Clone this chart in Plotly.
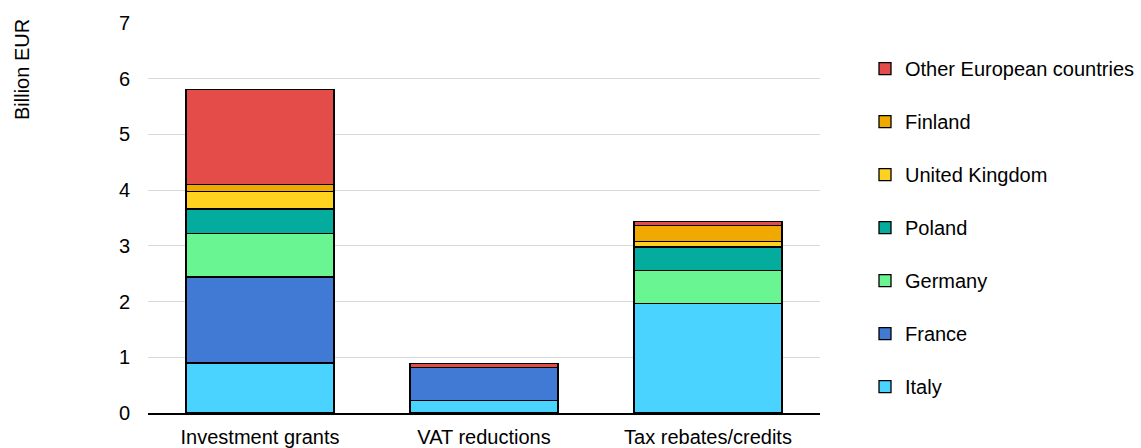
import plotly.graph_objects as go

categories = ["Investment grants", "VAT reductions", "Tax rebates/credits"]
italy = [0.90, 0.22, 1.96]
france = [1.54, 0.60, 0.0]
germany = [0.78, 0.0, 0.60]
poland = [0.44, 0.0, 0.42]
uk = [0.32, 0.0, 0.10]
finland = [0.12, 0.0, 0.28]
other = [1.71, 0.07, 0.08]

series = [
    ("Italy", italy, "#4AD3FF"),
    ("France", france, "#407AD4"),
    ("Germany", germany, "#69F592"),
    ("Poland", poland, "#03AC9D"),
    ("United Kingdom", uk, "#FFD220"),
    ("Finland", finland, "#F0A900"),
    ("Other European countries", other, "#E44C4A"),
]

fig = go.Figure()
for i, (name, vals, col) in enumerate(series):
    fig.add_trace(go.Bar(
        x=categories, y=vals, name=name, legendgroup=name,
        legendrank=100 - i,
        marker=dict(color=col, line=dict(color="#000000", width=1.3)),
    ))

fig.update_layout(
    barmode="stack",
    bargap=0.34,
    width=1141, height=448,
    margin=dict(l=148, r=321, t=23, b=35, autoexpand=False),
    paper_bgcolor="white", plot_bgcolor="white",
    font=dict(family="Liberation Sans, Arial, sans-serif", size=20, color="#000000"),
    legend=dict(
        x=(865 - 148) / 672, y=0.933, xanchor="left", yanchor="top",
        traceorder="grouped", tracegroupgap=24,
        font=dict(size=20), itemwidth=30,
    ),
    yaxis=dict(
        range=[0, 7], dtick=1, showgrid=True, gridcolor="#D9D9D9", gridwidth=1,
        zeroline=False, ticks="", showline=False, ticklabelstandoff=17,
        tickfont=dict(size=20), automargin=False,
    ),
    xaxis=dict(
        showline=True, linecolor="#000000", linewidth=1.5, ticks="",
        tickfont=dict(size=20), ticklabelstandoff=5, automargin=False,
    ),
    annotations=[dict(
        text="Billion EUR", textangle=-90,
        x=(22 - 148) / 672, y=(448 - 35 - 70) / 390, xref="paper", yref="paper",
        xanchor="center", yanchor="middle",
        showarrow=False, font=dict(size=20),
    )],
)

fig.write_html(
    "out.html",
    config={"displayModeBar": False},
    post_script="document.body.style.margin='0';document.body.style.padding='0';",
)
